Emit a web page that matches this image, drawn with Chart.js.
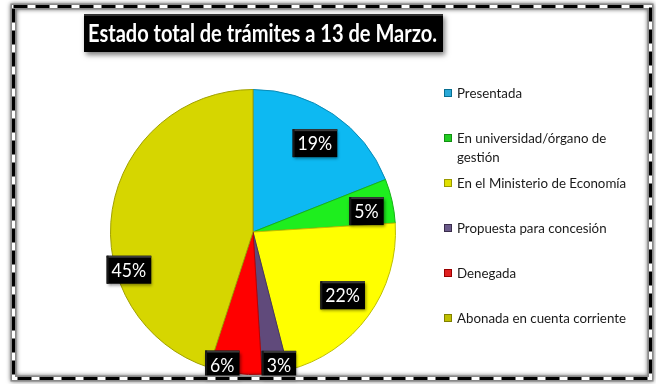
<!DOCTYPE html>
<html><head><meta charset="utf-8">
<script src="https://cdn.jsdelivr.net/npm/chart.js@4/dist/chart.umd.min.js"></script>
<style>html,body{margin:0;padding:0;background:#fff}#wrap{width:656px;height:384px;position:relative}canvas{display:block}</style>
</head><body><div id="wrap"><canvas id="c" width="656" height="384"></canvas></div>
<script>
const titleText = "Estado total de trámites a 13 de Marzo.";
const categories = ["Presentada", "En universidad/órgano de gestión", "En el Ministerio de Economía", "Propuesta para concesión", "Denegada", "Abonada en cuenta corriente"];
const values = [19, 5, 22, 3, 6, 45];
const valueLabels = ["19%", "5%", "22%", "3%", "6%", "45%"];
const sliceColors = ["#0DB9F2", "#1EEE1E", "#FFFF00", "#604A7B", "#FF0000", "#D6D600"];
const legendSwatch = ["#2AA9D8", "#22CC22", "#E0E000", "#6A5A8A", "#E02020", "#C0C000"];

const FONT = "Lato, 'Open Sans', sans-serif";

function darken(hex, f) {
  const n = parseInt(hex.slice(1), 16);
  const r = Math.round(((n >> 16) & 255) * f), g = Math.round(((n >> 8) & 255) * f), b = Math.round((n & 255) * f);
  return `rgb(${r},${g},${b})`;
}

function fitText(ctx, txt, x, y, targetW) {
  const w = ctx.measureText(txt).width;
  const s = targetW / w;
  ctx.save();
  ctx.translate(x, y);
  ctx.scale(s, 1);
  ctx.fillText(txt, 0, 0);
  ctx.restore();
}

const decorPlugin = {
  id: 'decor',
  beforeDraw(chart) {
    const ctx = chart.ctx;
    ctx.save();
    ctx.fillStyle = '#fff';
    ctx.fillRect(0, 0, chart.width, chart.height);
    ctx.restore();
  },
  afterDatasetsDraw(chart, args, opts) {
    const ctx = chart.ctx;
    const meta = chart.getDatasetMeta(0);
    ctx.save();
    meta.data.forEach((arc, i) => {
      const p = arc.getProps(['x', 'y', 'startAngle', 'endAngle', 'outerRadius'], true);
      const a = p.startAngle + (p.endAngle - p.startAngle) * opts.labelAngle[i];
      const r = p.outerRadius * opts.labelRadius[i];
      const x = p.x + Math.cos(a) * r;
      const y = p.y + Math.sin(a) * r;
      ctx.font = `19px ${FONT}`;
      const txt = valueLabels[i];
      const tw = ctx.measureText(txt).width * 0.93;
      const w = tw + 10;
      const h = 28;
      ctx.save();
      ctx.shadowColor = 'rgba(0,0,0,0.45)';
      ctx.shadowBlur = 3; ctx.shadowOffsetX = 1; ctx.shadowOffsetY = 2;
      ctx.fillStyle = '#000';
      ctx.fillRect(x - w / 2, y - h / 2, w, h);
      ctx.restore();
      ctx.fillStyle = '#3a3a3a';
      ctx.fillRect(x - w / 2, y - h / 2, w, 2);
      ctx.fillStyle = '#1a1a1a';
      ctx.fillRect(x - w / 2, y - h / 2, 2, h);
      ctx.fillStyle = '#fff';
      ctx.textAlign = 'left';
      ctx.textBaseline = 'middle';
      fitText(ctx, txt, x - tw / 2, y + 1, tw);
    });
    ctx.restore();
  },
  afterDraw(chart, args, opts) {
    const ctx = chart.ctx;
    ctx.save();
    // title
    ctx.font = `bold 25px ${FONT}`;
    const bx = 84, by = 14, bw = 359, bh = 38;
    ctx.save();
    ctx.shadowColor = 'rgba(0,0,0,0.5)';
    ctx.shadowBlur = 5; ctx.shadowOffsetX = 2; ctx.shadowOffsetY = 3;
    ctx.fillStyle = '#000';
    ctx.fillRect(bx, by, bw, bh);
    ctx.restore();
    ctx.fillStyle = '#333';
    ctx.fillRect(bx, by, bw, 2);
    ctx.fillStyle = '#fff';
    ctx.textAlign = 'left';
    ctx.textBaseline = 'middle';
    fitText(ctx, titleText, 88, by + bh / 2 + 1, 349);

    // legend
    const labels = chart.data.labels;
    ctx.font = `14px ${FONT}`;
    const sx = 0.95;
    ctx.textAlign = 'left';
    ctx.textBaseline = 'middle';
    const lx = 444, tx = 457, y0 = 93, step = 45, maxW = 185, lh = 19;
    labels.forEach((lab, i) => {
      const y = y0 + i * step;
      const words = lab.split(' ');
      const lines = [];
      let cur = '';
      words.forEach(wd => {
        const test = cur ? cur + ' ' + wd : wd;
        if (ctx.measureText(test).width * sx > maxW && cur) { lines.push(cur); cur = wd; }
        else cur = test;
      });
      lines.push(cur);
      ctx.fillStyle = legendSwatch[i];
      ctx.fillRect(lx, y - 4, 8, 8);
      ctx.strokeStyle = darken(sliceColors[i], 0.6);
      ctx.lineWidth = 1;
      ctx.strokeRect(lx + 0.5, y - 3.5, 7, 7);
      ctx.fillStyle = '#1a1a1a';
      lines.forEach((ln, k) => fitText(ctx, ln, tx, y + k * lh, ctx.measureText(ln).width * sx));
    });

    // frame
    const L = 13.5, T = 6.5, R = 650.5, B = 378.5;
    ctx.save();
    ctx.shadowColor = 'rgba(0,0,0,0.6)';
    ctx.shadowBlur = 4;
    ctx.strokeStyle = '#888';
    ctx.lineWidth = 6;
    ctx.strokeRect(L, T, R - L, B - T);
    ctx.restore();
    ctx.strokeStyle = '#fff';
    ctx.lineWidth = 3;
    ctx.strokeRect(L, T, R - L, B - T);
    ctx.strokeStyle = '#000';
    ctx.setLineDash([14, 8]);
    ctx.strokeRect(L, T, R - L, B - T);
    ctx.restore();
  }
};

new Chart(document.getElementById('c'), {
  type: 'pie',
  data: {
    labels: categories,
    datasets: [{
      data: values,
      backgroundColor: sliceColors,
      borderColor: sliceColors.map(c => darken(c, 0.75)),
      borderWidth: 1
    }]
  },
  options: {
    responsive: false,
    animation: false,
    devicePixelRatio: 1,
    layout: { padding: { left: 110, right: 260, top: 89, bottom: 9 } },
    plugins: {
      legend: { display: false },
      title: { display: false },
      tooltip: { enabled: false },
      decor: {
        labelRadius: [0.76, 0.81, 0.77, 0.95, 0.955, 0.91],
        labelAngle: [0.51, 0.62, 0.49, 0.31, 0.77, 0.34]
      }
    }
  },
  plugins: [decorPlugin]
});
</script>
</body></html>
